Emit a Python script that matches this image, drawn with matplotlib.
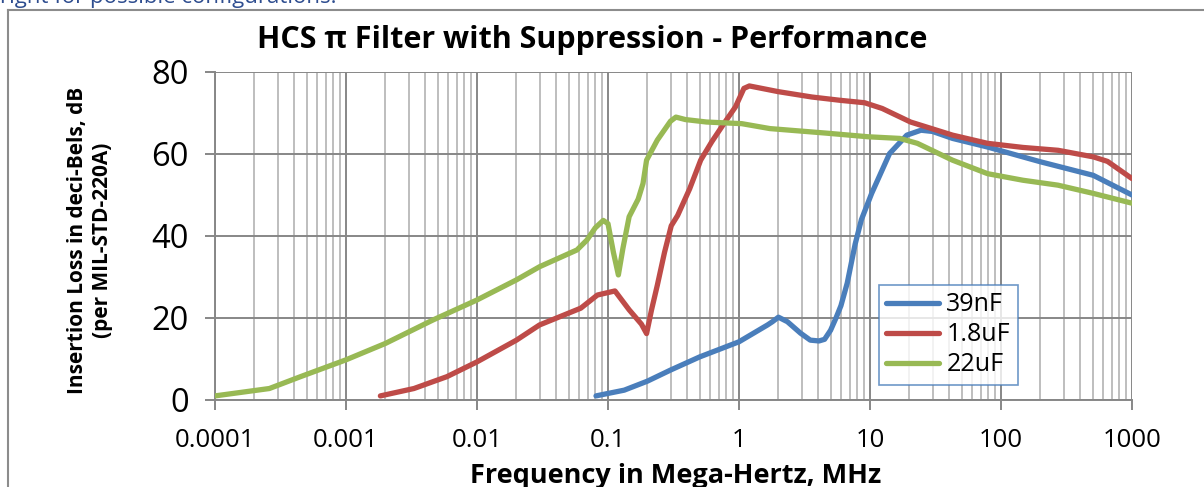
import numpy as np
import matplotlib.pyplot as plt
from matplotlib.lines import Line2D
from matplotlib.ticker import LogLocator, NullFormatter, FixedLocator

plt.rcParams['font.family'] = ['Open Sans', 'DejaVu Sans']

# Values (frequency in MHz, insertion loss in dB)
f_39nF = [0.081, 0.1, 0.133, 0.2, 0.3, 0.5, 1.0, 1.65, 1.8, 2.0, 2.34, 2.95, 3.5, 4.08,
          4.5, 5.0, 5.5, 6.0, 6.7, 7.7, 8.6, 10.3, 14.1, 19.1, 24.5, 30, 42.7, 79, 200,
          506, 1000]
il_39nF = [1.0, 1.6, 2.4, 4.6, 7.3, 10.5, 14.2, 18.3, 19.1, 20.2, 19.1, 16.3, 14.6, 14.4,
           14.8, 17.0, 20.0, 23.0, 28.5, 38.0, 44.0, 50.4, 60.1, 64.6, 65.8, 65.5, 63.8,
           61.7, 58.1, 54.8, 50.0]

f_1u8 = [0.00183, 0.0033, 0.0059, 0.01, 0.02, 0.03, 0.062, 0.083, 0.113, 0.145, 0.18,
         0.197, 0.215, 0.238, 0.27, 0.304, 0.34, 0.42, 0.51, 0.62, 0.77, 0.94, 1.09, 1.2,
         2.0, 3.6, 5.9, 9.1, 12.4, 20.4, 42.7, 79, 147, 273, 507, 650, 1000]
il_1u8 = [1.0, 2.8, 5.7, 9.3, 14.6, 18.3, 22.4, 25.6, 26.6, 22.0, 18.5,
          16.2, 22.0, 28.0, 36.0, 42.5, 45.0, 51.5, 58.5, 63.0, 67.5, 71.5, 76.0, 76.6,
          75.2, 73.9, 73.1, 72.5, 71.1, 67.8, 64.6, 62.6, 61.6, 60.9, 59.3, 58.2, 54.0]

f_22u = [0.0001, 0.00026, 0.00045, 0.001, 0.002, 0.0046, 0.01, 0.02, 0.03, 0.058, 0.069,
         0.08, 0.092, 0.1, 0.11, 0.12, 0.13, 0.145, 0.17, 0.185, 0.197, 0.238, 0.3, 0.33,
         0.39, 0.565, 1.05, 1.72, 4.6, 9.7, 16.9, 23, 42.6, 79, 147, 272, 505, 1000]
il_22u = [1.0, 2.8, 5.7, 9.8, 13.8, 19.5, 24.4, 29.3, 32.5, 36.6, 39.0,
          42.0, 43.8, 43.0, 36.0, 30.5, 37.0, 44.7, 49.0, 52.8, 58.5, 63.4, 68.0, 69.0,
          68.4, 67.8, 67.4, 66.2, 65.1, 64.2, 63.8, 62.6, 58.5, 55.2, 53.6, 52.4, 50.4, 48.0]

x_ticks = [0.0001, 0.001, 0.01, 0.1, 1, 10, 100, 1000]
x_tick_labels = ['0.0001', '0.001', '0.01', '0.1', '1', '10', '100', '1000']
y_ticks = [0, 20, 40, 60, 80]

fig = plt.figure(figsize=(12.04, 4.87), dpi=100)
ax = fig.add_axes([215 / 1204, 1 - 400 / 487, (1132 - 215) / 1204, (400 - 72) / 487])

style = dict(lw=3.8, solid_capstyle='round', solid_joinstyle='round', zorder=3)
ax.plot(f_39nF, il_39nF, color='#4A7EBB', label='39nF', **style)
ax.plot(f_1u8, il_1u8, color='#BE4B48', label='1.8uF', **style)
ax.plot(f_22u, il_22u, color='#98B954', label='22uF', **style)

ax.set_xscale('log')
ax.set_xlim(1e-4, 1e3)
ax.set_ylim(0, 80)
ax.xaxis.set_major_locator(FixedLocator(x_ticks))
ax.set_xticklabels(x_tick_labels)
ax.xaxis.set_minor_locator(LogLocator(base=10, subs=np.arange(2, 10), numticks=50))
ax.xaxis.set_minor_formatter(NullFormatter())
ax.set_yticks(y_ticks)

ax.grid(which='major', color='#878787', lw=1.4)
ax.grid(which='minor', axis='x', color='#BEBEBE', lw=1.4)
ax.set_axisbelow(True)

for s in ['top', 'right']:
    ax.spines[s].set_visible(False)
for s in ['left', 'bottom']:
    ax.spines[s].set_color('#878787')
    ax.spines[s].set_linewidth(1.4)

ax.tick_params(axis='x', which='major', length=7, width=1.4, color='#878787', labelsize=18.5, pad=13)
ax.tick_params(axis='x', which='minor', length=0)
ax.tick_params(axis='y', length=7, width=1.4, color='#878787', labelsize=23.5, pad=12)

leg = ax.legend(loc='lower left', bbox_to_anchor=(0.724, 0.046), fontsize=18, handlelength=2.1,
                frameon=True, fancybox=False, borderpad=0.3, labelspacing=0.2,
                handletextpad=0.3, borderaxespad=0)
leg.get_frame().set_edgecolor('#4A7EBB')
leg.get_frame().set_linewidth(1.2)

fig.text(592 / 1204, 1 - 48 / 487, 'HCS \u03c0 Filter with Suppression - Performance',
         ha='center', va='baseline', fontsize=22, fontweight='bold')
fig.text(676 / 1204, 1 - 483 / 487, 'Frequency in Mega-Hertz, MHz', ha='center', va='baseline',
         fontsize=19.5, fontweight='bold')
fig.text(90 / 1204, 1 - 240 / 487, 'Insertion Loss in deci-Bels, dB\n(per MIL-STD-220A)',
         ha='center', va='center', rotation=90, fontsize=15, fontweight='bold',
         multialignment='center', linespacing=1.2)

# top text cut off by the page and the chart frame
fig.text(0, 1 - 3 / 487, 'right for possible configurations.', ha='left', va='baseline',
         fontsize=16, color='#2E4D8F')
fig.add_artist(Line2D([8 / 1204, 8 / 1204], [0, 1 - 10 / 487], color='#8C8C8C', lw=1.5))
fig.add_artist(Line2D([8 / 1204, 1], [1 - 10 / 487, 1 - 10 / 487], color='#8C8C8C', lw=1.5))

fig.savefig('out.png', dpi=100)
